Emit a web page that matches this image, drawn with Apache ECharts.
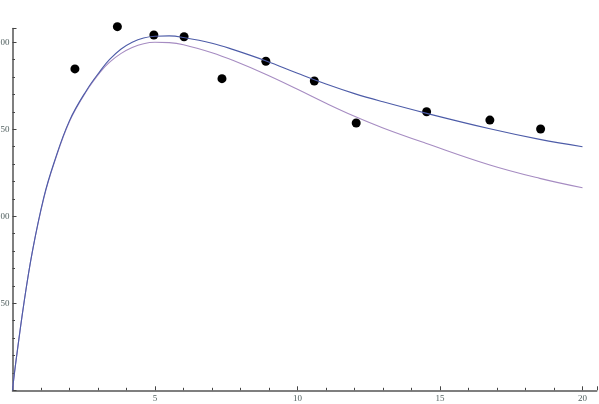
<!DOCTYPE html>
<html>
<head>
<meta charset="utf-8">
<script src="https://cdn.jsdelivr.net/npm/echarts@6/dist/echarts.min.js"></script>
<style>
  html, body { margin: 0; padding: 0; background: #fff; }
  #chart { width: 599px; height: 404px; }
</style>
</head>
<body>
<div id="chart"></div>
<script>
// measured data points
const pointX = [2.19, 3.68, 4.96, 6.02, 7.35, 8.89, 10.59, 12.06, 14.53, 16.75, 18.53]
const pointY = [184.7, 209, 204.2, 203.2, 179.1, 189.1, 177.8, 153.6, 160.1, 155.3, 150.2]

// fitted curves
const curveX = [0, 0.1, 0.4, 0.7, 1.1, 1.45, 2, 2.6, 3.1, 3.4, 3.8, 4.2, 4.6, 5, 5.5, 6, 7, 7.75, 8.9, 10, 11, 12, 13, 14.5, 16.75, 18.5, 20]
const fitA = [0, 14, 50, 80, 111, 130.5, 155, 172.5, 184, 190, 196, 200, 202.5, 203.5, 203.7, 202.8, 199.5, 195.8, 189.3, 182.2, 176, 170.5, 165.8, 159.3, 150.3, 144.2, 140]
const fitB = [0, 14, 50, 80, 110.5, 130, 154.5, 172, 183.3, 188.5, 193.5, 197, 199.2, 200, 199.8, 198.6, 194, 189.5, 181.5, 173, 165, 157.5, 150.8, 142, 129.5, 121.8, 116.4]

const pair = (xs, ys) => xs.map((x, i) => [x, ys[i]])

const chart = echarts.init(document.getElementById('chart'))

const axisCommon = {
  type: 'value',
  axisLine: { show: true, lineStyle: { color: '#555', width: 1.5 } },
  axisTick: { show: true, inside: true, length: 4, lineStyle: { color: '#444' } },
  minorTick: { show: true, splitNumber: 5, length: 2.5, lineStyle: { color: '#444' } },
  splitLine: { show: false },
  axisLabel: {
    showMinLabel: false,
    showMaxLabel: false,
    fontFamily: 'Liberation Serif',
    fontSize: 9,
    color: '#4f5e5e'
  }
}

chart.setOption({
  animation: false,
  grid: { left: 12.5, top: 28.4, width: 584.25, height: 361.9, containLabel: false, outerBoundsMode: 'none' },
  xAxis: {
    ...axisCommon,
    min: 0,
    max: 20.5,
    interval: 5,
    axisLabel: { ...axisCommon.axisLabel, margin: 4 }
  },
  yAxis: {
    ...axisCommon,
    min: 0,
    max: 208,
    interval: 50,
    axisLabel: { ...axisCommon.axisLabel, margin: 3 }
  },
  series: [
    {
      type: 'line',
      data: pair(curveX, fitB),
      smooth: 0.4,
      showSymbol: false,
      lineStyle: { color: '#a68cc2', width: 1.1 }
    },
    {
      type: 'line',
      data: pair(curveX, fitA),
      smooth: 0.4,
      showSymbol: false,
      lineStyle: { color: '#4d5ca8', width: 1.1 }
    },
    {
      type: 'scatter',
      data: pair(pointX, pointY),
      symbolSize: 9,
      clip: false,
      itemStyle: { color: '#000', opacity: 1 }
    }
  ]
})
</script>
</body>
</html>
